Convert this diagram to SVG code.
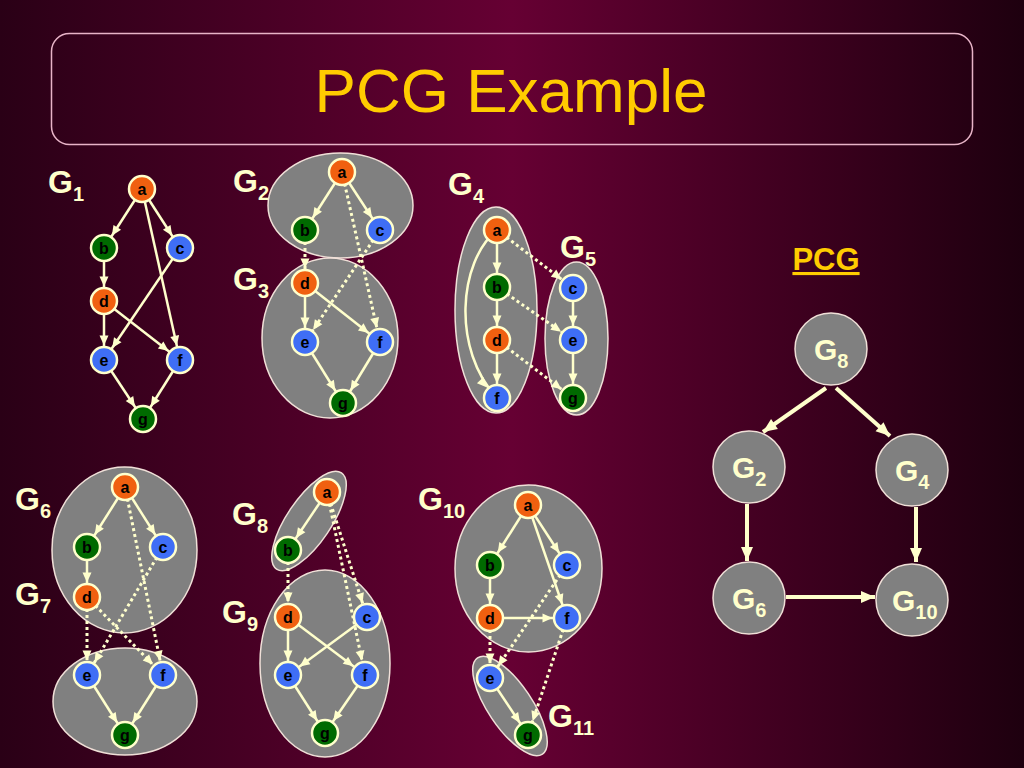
<svg xmlns="http://www.w3.org/2000/svg" width="1024" height="768" viewBox="0 0 1024 768">
<defs>
<linearGradient id="bg" x1="0" y1="0" x2="1" y2="0">
<stop offset="0" stop-color="#2a0016"/>
<stop offset="0.5" stop-color="#660033"/>
<stop offset="1" stop-color="#1e000f"/>
</linearGradient>
<marker id="arr" markerUnits="userSpaceOnUse" markerWidth="30" markerHeight="10" refX="24.5" refY="4.5" orient="auto" overflow="visible">
<path d="M0,0 L10,4.5 L0,9 z" fill="#ffffcc"/>
</marker>
<marker id="big" markerUnits="userSpaceOnUse" markerWidth="16" markerHeight="14" refX="14" refY="6" orient="auto" overflow="visible">
<path d="M0,0 L14,6 L0,12 z" fill="#ffffcc"/>
</marker>
<style>
.sub{fill:#808080;stroke:#f0e0d8;stroke-width:1.5}
.e{stroke:#ffffcc;stroke-width:2.5;fill:none;marker-end:url(#arr)}
.d{stroke:#ffffcc;stroke-width:3;stroke-dasharray:3 3;fill:none;marker-end:url(#arr)}
.p{stroke:#ffffcc;stroke-width:4;fill:none;marker-end:url(#big)}
.n circle{stroke:#ffffcc;stroke-width:2.5}
.n text{font-family:"Liberation Sans",Arial,sans-serif;font-weight:bold;font-size:16px;fill:#000;text-anchor:middle}
.o{fill:#f06010}
.gr{fill:#006a00}
.bl{fill:#3f6ef5}
.lab{font-family:"Liberation Sans",Arial,sans-serif;font-weight:bold;font-size:32px;fill:#ffffcc}
.lab tspan{font-size:20px}
.pc{fill:#808080;stroke:#f0e0d8;stroke-width:1.5}
.pl{font-family:"Liberation Sans",Arial,sans-serif;font-weight:bold;font-size:30px;fill:#ffffcc}
.pl tspan{font-size:20px}
</style>
</defs>
<rect width="1024" height="768" fill="url(#bg)"/>
<g id="title">
<rect x="51.5" y="33.5" width="921" height="111" rx="18" fill="none" stroke="#e8b4c8" stroke-width="1.5"/>
<text x="511" y="112" font-family="'Liberation Sans',Arial,sans-serif" font-size="62" fill="#ffcc00" text-anchor="middle">PCG Example</text>
</g>

<g id="subgraphs">
<ellipse id="sg-G2" class="sub" cx="340.5" cy="205.5" rx="72.5" ry="52.5"/>
<ellipse id="sg-G3" class="sub" cx="330" cy="338" rx="68" ry="80"/>
<ellipse id="sg-G4" class="sub" cx="496" cy="310" rx="41" ry="103"/>
<ellipse id="sg-G5" class="sub" cx="576.5" cy="338.5" rx="31.5" ry="76.5"/>
<ellipse id="sg-G6" class="sub" cx="124.5" cy="550" rx="72.5" ry="83"/>
<ellipse id="sg-G7" class="sub" cx="125" cy="701.5" rx="72" ry="53.5"/>
<ellipse id="sg-G8" class="sub" cx="0" cy="0" rx="58" ry="22" transform="translate(309 521) rotate(-56)"/>
<ellipse id="sg-G9" class="sub" cx="325" cy="663.5" rx="65" ry="93.5"/>
<ellipse id="sg-G10" class="sub" cx="528.5" cy="568.5" rx="73.5" ry="83.5"/>
<ellipse id="sg-G11" class="sub" cx="0" cy="0" rx="58" ry="22" transform="translate(510 706) rotate(56)"/>
</g>

<g id="connectors">
<!-- G1 -->
<line class="e" x1="142" y1="189" x2="104" y2="248"/>
<line class="e" x1="142" y1="189" x2="180" y2="248"/>
<line class="e" x1="142" y1="189" x2="180" y2="360"/>
<line class="e" x1="104" y1="248" x2="104" y2="301"/>
<line class="e" x1="180" y1="248" x2="104" y2="360"/>
<line class="e" x1="104" y1="301" x2="104" y2="360"/>
<line class="e" x1="104" y1="301" x2="180" y2="360"/>
<line class="e" x1="104" y1="360" x2="143" y2="419"/>
<line class="e" x1="180" y1="360" x2="143" y2="419"/>
<!-- G2/G3 -->
<line class="e" x1="342" y1="172" x2="305" y2="230"/>
<line class="e" x1="342" y1="172" x2="380" y2="230"/>
<line class="d" x1="342" y1="172" x2="380" y2="342"/>
<line class="d" x1="380" y1="230" x2="305" y2="342"/>
<line class="d" x1="305" y1="230" x2="305" y2="283"/>
<line class="e" x1="305" y1="283" x2="305" y2="342"/>
<line class="e" x1="305" y1="283" x2="380" y2="342"/>
<line class="e" x1="305" y1="342" x2="343" y2="403"/>
<line class="e" x1="380" y1="342" x2="343" y2="403"/>
<!-- G4/G5 -->
<line class="e" x1="497" y1="230" x2="497" y2="287"/>
<line class="e" x1="497" y1="287" x2="497" y2="340"/>
<line class="e" x1="497" y1="340" x2="497" y2="398"/>
<path class="e" d="M497,230 C458,262 452,350 497,398"/>
<line class="e" x1="573" y1="288" x2="573" y2="340"/>
<line class="e" x1="573" y1="340" x2="573" y2="398"/>
<line class="d" x1="497" y1="230" x2="573" y2="288"/>
<line class="d" x1="497" y1="287" x2="573" y2="340"/>
<line class="d" x1="497" y1="340" x2="573" y2="398"/>
<!-- G6/G7 -->
<line class="e" x1="125" y1="487" x2="87" y2="547"/>
<line class="e" x1="125" y1="487" x2="163" y2="547"/>
<line class="e" x1="87" y1="547" x2="87" y2="597"/>
<line class="d" x1="125" y1="487" x2="163" y2="675"/>
<line class="d" x1="163" y1="547" x2="87" y2="675"/>
<line class="d" x1="87" y1="597" x2="87" y2="675"/>
<line class="d" x1="87" y1="597" x2="163" y2="675"/>
<line class="e" x1="87" y1="675" x2="125" y2="735"/>
<line class="e" x1="163" y1="675" x2="125" y2="735"/>
<!-- G8/G9 -->
<line class="e" x1="327" y1="492" x2="288" y2="550"/>
<line class="d" x1="288" y1="550" x2="288" y2="617"/>
<line class="d" x1="327" y1="492" x2="367" y2="617"/>
<line class="d" x1="327" y1="492" x2="365" y2="675"/>
<line class="e" x1="288" y1="617" x2="288" y2="675"/>
<line class="e" x1="288" y1="617" x2="365" y2="675"/>
<line class="e" x1="367" y1="617" x2="288" y2="675"/>
<line class="e" x1="288" y1="675" x2="325" y2="733"/>
<line class="e" x1="365" y1="675" x2="325" y2="733"/>
<!-- G10/G11 -->
<line class="e" x1="528" y1="505" x2="490" y2="565"/>
<line class="e" x1="528" y1="505" x2="567" y2="565"/>
<line class="e" x1="528" y1="505" x2="567" y2="618"/>
<line class="e" x1="490" y1="565" x2="490" y2="618"/>
<line class="e" x1="490" y1="618" x2="567" y2="618"/>
<line class="d" x1="490" y1="618" x2="490" y2="678"/>
<line class="d" x1="567" y1="565" x2="490" y2="678"/>
<line class="d" x1="567" y1="618" x2="528" y2="735"/>
<line class="e" x1="490" y1="678" x2="528" y2="735"/>
<!-- PCG -->
<line class="p" x1="826" y1="388" x2="763" y2="432"/>
<line class="p" x1="836" y1="388" x2="890" y2="436"/>
<line class="p" x1="747" y1="504" x2="747" y2="561"/>
<line class="p" x1="916" y1="507" x2="916" y2="562"/>
<line class="p" x1="786" y1="597" x2="875" y2="597"/>
</g>

<g id="nodes">
<!-- G1 -->
<g id="g1-a" class="n"><circle class="o" cx="142" cy="189" r="13"/><text x="142" y="195">a</text></g>
<g id="g1-b" class="n"><circle class="gr" cx="104" cy="248" r="13"/><text x="104" y="254">b</text></g>
<g id="g1-c" class="n"><circle class="bl" cx="180" cy="248" r="13"/><text x="180" y="254">c</text></g>
<g id="g1-d" class="n"><circle class="o" cx="104" cy="301" r="13"/><text x="104" y="307">d</text></g>
<g id="g1-e" class="n"><circle class="bl" cx="104" cy="360" r="13"/><text x="104" y="366">e</text></g>
<g id="g1-f" class="n"><circle class="bl" cx="180" cy="360" r="13"/><text x="180" y="366">f</text></g>
<g id="g1-g" class="n"><circle class="gr" cx="143" cy="419" r="13"/><text x="143" y="425">g</text></g>
<!-- G2/G3 -->
<g id="g2-a" class="n"><circle class="o" cx="342" cy="172" r="13"/><text x="342" y="178">a</text></g>
<g id="g2-b" class="n"><circle class="gr" cx="305" cy="230" r="13"/><text x="305" y="236">b</text></g>
<g id="g2-c" class="n"><circle class="bl" cx="380" cy="230" r="13"/><text x="380" y="236">c</text></g>
<g id="g3-d" class="n"><circle class="o" cx="305" cy="283" r="13"/><text x="305" y="289">d</text></g>
<g id="g3-e" class="n"><circle class="bl" cx="305" cy="342" r="13"/><text x="305" y="348">e</text></g>
<g id="g3-f" class="n"><circle class="bl" cx="380" cy="342" r="13"/><text x="380" y="348">f</text></g>
<g id="g3-g" class="n"><circle class="gr" cx="343" cy="403" r="13"/><text x="343" y="409">g</text></g>
<!-- G4/G5 -->
<g id="g4-a" class="n"><circle class="o" cx="497" cy="230" r="13"/><text x="497" y="236">a</text></g>
<g id="g4-b" class="n"><circle class="gr" cx="497" cy="287" r="13"/><text x="497" y="293">b</text></g>
<g id="g4-d" class="n"><circle class="o" cx="497" cy="340" r="13"/><text x="497" y="346">d</text></g>
<g id="g4-f" class="n"><circle class="bl" cx="497" cy="398" r="13"/><text x="497" y="404">f</text></g>
<g id="g5-c" class="n"><circle class="bl" cx="573" cy="288" r="13"/><text x="573" y="294">c</text></g>
<g id="g5-e" class="n"><circle class="bl" cx="573" cy="340" r="13"/><text x="573" y="346">e</text></g>
<g id="g5-g" class="n"><circle class="gr" cx="573" cy="398" r="13"/><text x="573" y="404">g</text></g>
<!-- G6/G7 -->
<g id="g6-a" class="n"><circle class="o" cx="125" cy="487" r="13"/><text x="125" y="493">a</text></g>
<g id="g6-b" class="n"><circle class="gr" cx="87" cy="547" r="13"/><text x="87" y="553">b</text></g>
<g id="g6-c" class="n"><circle class="bl" cx="163" cy="547" r="13"/><text x="163" y="553">c</text></g>
<g id="g6-d" class="n"><circle class="o" cx="87" cy="597" r="13"/><text x="87" y="603">d</text></g>
<g id="g7-e" class="n"><circle class="bl" cx="87" cy="675" r="13"/><text x="87" y="681">e</text></g>
<g id="g7-f" class="n"><circle class="bl" cx="163" cy="675" r="13"/><text x="163" y="681">f</text></g>
<g id="g7-g" class="n"><circle class="gr" cx="125" cy="735" r="13"/><text x="125" y="741">g</text></g>
<!-- G8/G9 -->
<g id="g8-a" class="n"><circle class="o" cx="327" cy="492" r="13"/><text x="327" y="498">a</text></g>
<g id="g8-b" class="n"><circle class="gr" cx="288" cy="550" r="13"/><text x="288" y="556">b</text></g>
<g id="g9-d" class="n"><circle class="o" cx="288" cy="617" r="13"/><text x="288" y="623">d</text></g>
<g id="g9-c" class="n"><circle class="bl" cx="367" cy="617" r="13"/><text x="367" y="623">c</text></g>
<g id="g9-e" class="n"><circle class="bl" cx="288" cy="675" r="13"/><text x="288" y="681">e</text></g>
<g id="g9-f" class="n"><circle class="bl" cx="365" cy="675" r="13"/><text x="365" y="681">f</text></g>
<g id="g9-g" class="n"><circle class="gr" cx="325" cy="733" r="13"/><text x="325" y="739">g</text></g>
<!-- G10/G11 -->
<g id="g10-a" class="n"><circle class="o" cx="528" cy="505" r="13"/><text x="528" y="511">a</text></g>
<g id="g10-b" class="n"><circle class="gr" cx="490" cy="565" r="13"/><text x="490" y="571">b</text></g>
<g id="g10-c" class="n"><circle class="bl" cx="567" cy="565" r="13"/><text x="567" y="571">c</text></g>
<g id="g10-d" class="n"><circle class="o" cx="490" cy="618" r="13"/><text x="490" y="624">d</text></g>
<g id="g10-f" class="n"><circle class="bl" cx="567" cy="618" r="13"/><text x="567" y="624">f</text></g>
<g id="g11-e" class="n"><circle class="bl" cx="490" cy="678" r="13"/><text x="490" y="684">e</text></g>
<g id="g11-g" class="n"><circle class="gr" cx="528" cy="735" r="13"/><text x="528" y="741">g</text></g>
<!-- PCG -->
<g id="pcg-G8"><circle class="pc" cx="831" cy="349" r="36"/><text class="pl" x="814" y="360">G<tspan dy="8">8</tspan></text></g>
<g id="pcg-G2"><circle class="pc" cx="749" cy="467" r="36"/><text class="pl" x="732" y="478">G<tspan dy="8">2</tspan></text></g>
<g id="pcg-G4"><circle class="pc" cx="912" cy="470" r="36"/><text class="pl" x="895" y="481">G<tspan dy="8">4</tspan></text></g>
<g id="pcg-G6"><circle class="pc" cx="749" cy="598" r="36"/><text class="pl" x="732" y="609">G<tspan dy="8">6</tspan></text></g>
<g id="pcg-G10"><circle class="pc" cx="912" cy="600" r="36"/><text class="pl" x="892" y="611">G<tspan dy="8">10</tspan></text></g>
</g>

<g id="labels">
<text class="lab" x="48" y="193">G<tspan dy="8">1</tspan></text>
<text class="lab" x="233" y="192">G<tspan dy="8">2</tspan></text>
<text class="lab" x="233" y="290">G<tspan dy="8">3</tspan></text>
<text class="lab" x="448" y="195">G<tspan dy="8">4</tspan></text>
<text class="lab" x="560" y="258">G<tspan dy="8">5</tspan></text>
<text class="lab" x="15" y="510">G<tspan dy="8">6</tspan></text>
<text class="lab" x="15" y="605">G<tspan dy="8">7</tspan></text>
<text class="lab" x="232" y="525">G<tspan dy="8">8</tspan></text>
<text class="lab" x="222" y="623">G<tspan dy="8">9</tspan></text>
<text class="lab" x="418" y="510">G<tspan dy="8">10</tspan></text>
<text class="lab" x="548" y="727">G<tspan dy="8">11</tspan></text>
<text x="826" y="270" font-family="'Liberation Sans',Arial,sans-serif" font-weight="bold" font-size="31" fill="#ffcc00" text-anchor="middle" text-decoration="underline">PCG</text>
</g>
</svg>
